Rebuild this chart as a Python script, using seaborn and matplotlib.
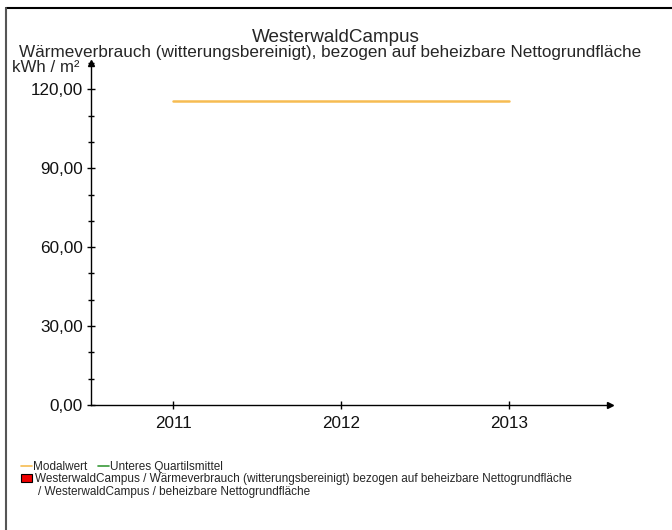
import numpy as np
import pandas as pd
import seaborn as sns
import matplotlib.pyplot as plt
from matplotlib.lines import Line2D
from matplotlib.patches import Patch
from matplotlib.ticker import MultipleLocator, FuncFormatter

# data
years = [2011, 2012, 2013]
modalwert = [115.4, 115.4, 115.4]
y_ticks = [0, 30, 60, 90, 120]

sns.set_style('white')
plt.rcParams['font.family'] = ['Liberation Sans', 'DejaVu Sans']

fig = plt.figure(figsize=(6.72, 5.3), dpi=100)
ax = fig.add_axes([91/672, 1-405/530, (610-91)/672, (405-63)/530])

df = pd.DataFrame({'Jahr': years, 'Modalwert': modalwert})
sns.lineplot(data=df, x='Jahr', y='Modalwert', color='#f6bc52', linewidth=1.8, ax=ax)

ax.set_xlim(2010.51, 2013.6)
ax.set_ylim(0, 130)
ax.set_xticks(years)
ax.set_yticks(y_ticks)
ax.yaxis.set_minor_locator(MultipleLocator(10))
ax.yaxis.set_major_formatter(FuncFormatter(lambda v, p: f'{v:.2f}'.replace('.', ',')))
ax.set_xlabel('')
ax.set_ylabel('')
ax.tick_params(axis='both', which='major', direction='inout', length=6, width=1,
               labelsize=12.3, color='black', labelcolor='#111111', pad=3,
               left=True, bottom=True)
ax.tick_params(axis='y', which='minor', direction='inout', length=4, width=1, color='black', left=True)
ax.tick_params(axis='x', pad=5)

for s in ['top', 'right']:
    ax.spines[s].set_visible(False)
for s in ['left', 'bottom']:
    ax.spines[s].set_color('black')
    ax.spines[s].set_linewidth(1)

# arrow heads at axis ends
ax.plot(1, 0, '>', color='black', ms=5, transform=ax.transAxes, clip_on=False)
ax.plot(0, 1, '^', color='black', ms=5, transform=ax.transAxes, clip_on=False)

# titles
fig.text(0.5, 1-37/530, 'WesterwaldCampus', ha='center', va='center', fontsize=13.6)
fig.text(0.492, 1-53/530,
         'Wärmeverbrauch (witterungsbereinigt), bezogen auf beheizbare Nettogrundfläche',
         ha='center', va='center', fontsize=12.3)
fig.text(80/672, 1-68/530, 'kWh / m²', ha='right', va='center', fontsize=12.2)

# legend
h1 = [Line2D([], [], color='#f6bc52', lw=1.2), Line2D([], [], color='#3a9a3a', lw=1.2)]
fig.legend(h1, ['Modalwert', 'Unteres Quartilsmittel'], ncol=2, frameon=False,
           loc='center left', bbox_to_anchor=(21/672, 1-467/530), fontsize=8.5,
           handlelength=0.93, handletextpad=0.1, columnspacing=0.9,
           borderpad=0, borderaxespad=0)
h2 = [Patch(facecolor='#ee0000', edgecolor='black', lw=0.8)]
fig.legend(h2, ['WesterwaldCampus / Wärmeverbrauch (witterungsbereinigt) bezogen auf beheizbare Nettogrundfläche'],
           frameon=False, loc='center left', bbox_to_anchor=(21/672, 1-479/530), fontsize=8.5,
           handlelength=0.93, handleheight=0.6, handletextpad=0.25,
           borderpad=0, borderaxespad=0)
fig.text(38/672, 1-492/530, '/ WesterwaldCampus / beheizbare Nettogrundfläche',
         ha='left', va='center', fontsize=8.5)

# frame lines top and left
fig.add_artist(Line2D([6/672, 1], [1-8/530, 1-8/530], color='black', lw=1.5))
fig.add_artist(Line2D([6/672, 6/672], [0, 1-8/530], color='#555555', lw=1.5))

fig.savefig('out.png', dpi=100)
